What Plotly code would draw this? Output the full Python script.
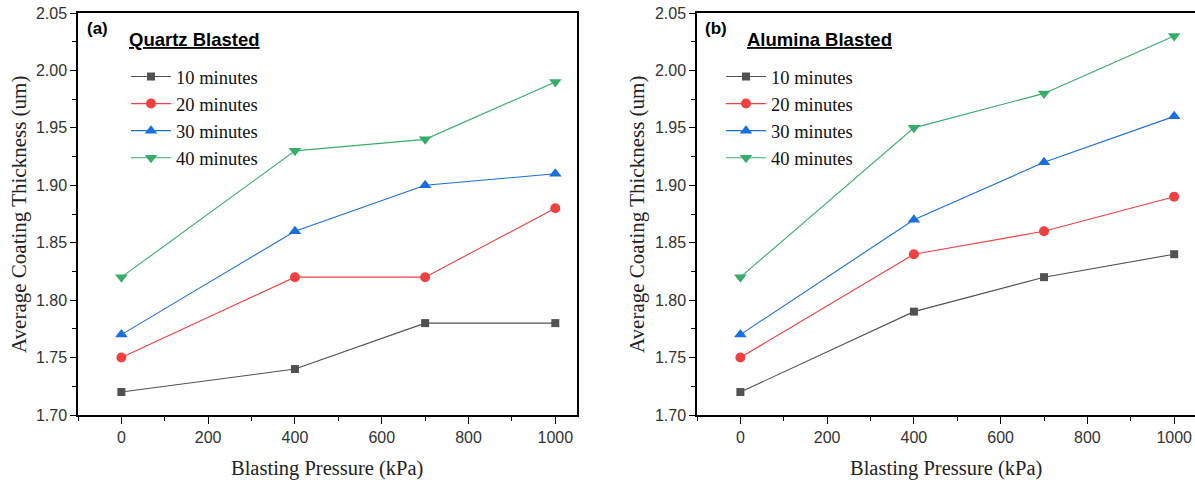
import plotly.graph_objects as go

pressure = [0, 400, 700, 1000]
series_names = ["10 minutes", "20 minutes", "30 minutes", "40 minutes"]

quartz_10 = [1.72, 1.74, 1.78, 1.78]
quartz_20 = [1.75, 1.82, 1.82, 1.88]
quartz_30 = [1.77, 1.86, 1.90, 1.91]
quartz_40 = [1.82, 1.93, 1.94, 1.99]

alumina_10 = [1.72, 1.79, 1.82, 1.84]
alumina_20 = [1.75, 1.84, 1.86, 1.89]
alumina_30 = [1.77, 1.87, 1.92, 1.96]
alumina_40 = [1.82, 1.95, 1.98, 2.03]

x_ticks = [0, 200, 400, 600, 800, 1000]
y_ticks = [1.70, 1.75, 1.80, 1.85, 1.90, 1.95, 2.00, 2.05]

colors = ["#515151", "#F14040", "#1A6FDF", "#37AD6B"]
symbols = ["square", "circle", "triangle-up", "triangle-down"]
msizes = [8, 10, 11, 11]

W, H = 1195, 482
ML, MR, MT, MB = 78, 0, 13, 67
PW, PH = W - ML - MR, H - MT - MB


def fx(px):
    return (px - ML) / PW


def fy(py):
    return (H - MB - py) / PH


fig = go.Figure()
panels = [
    ("x", "y", "legend", [quartz_10, quartz_20, quartz_30, quartz_40]),
    ("x2", "y2", "legend2", [alumina_10, alumina_20, alumina_30, alumina_40]),
]
for xa, ya, lg, data in panels:
    for i, vals in enumerate(data):
        fig.add_trace(go.Scatter(
            x=pressure, y=vals, name=series_names[i], mode="lines+markers",
            line=dict(color=colors[i], width=1.1),
            marker=dict(symbol=symbols[i], size=msizes[i], color=colors[i]),
            xaxis=xa, yaxis=ya, legend=lg))

tickfont = dict(family="Liberation Sans, Arial", size=16, color="#333")
minor_x = dict(tickvals=[-100, 100, 300, 500, 700, 900], ticks="outside",
               ticklen=4, tickwidth=1, tickcolor="black", showgrid=False)
common_x = dict(tickvals=x_ticks, ticks="outside", ticklen=7, tickwidth=1, tickcolor="black",
                showline=True, linecolor="black", linewidth=1.5, automargin=False,
                showgrid=False, zeroline=False, tickfont=tickfont, minor=minor_x)
common_y = dict(range=[1.70, 2.05], tickvals=y_ticks, tickformat=".2f",
                ticks="outside", ticklen=6, tickwidth=1, tickcolor="black",
                showline=True, linecolor="black", linewidth=1.5, automargin=False,
                showgrid=False, zeroline=False, tickfont=tickfont, domain=[0, 1],
                minor=dict(tickvals=[1.725, 1.775, 1.825, 1.875, 1.925, 1.975, 2.025],
                           ticks="outside", ticklen=4, tickwidth=1, tickcolor="black",
                           showgrid=False))

leg_font = dict(family="Liberation Serif, Times New Roman", size=18.5, color="#111")
fig.update_layout(
    width=W, height=H, margin=dict(l=ML, r=MR, t=MT, b=MB, pad=0),
    paper_bgcolor="white", plot_bgcolor="white", showlegend=True,
    xaxis=dict(common_x, domain=[0, fx(577)], range=[-100, 1050], mirror=True, anchor="y"),
    yaxis=dict(common_y, mirror=True, anchor="x"),
    xaxis2=dict(common_x, domain=[fx(697), 1.0], range=[-100, 1048], mirror=True, anchor="y2"),
    yaxis2=dict(common_y, anchor="x2"),
    legend=dict(x=fx(126), y=fy(58), xanchor="left", yanchor="top", font=leg_font,
                bgcolor="rgba(0,0,0,0)", itemwidth=40, borderwidth=0),
    legend2=dict(x=fx(721), y=fy(58), xanchor="left", yanchor="top", font=leg_font,
                 bgcolor="rgba(0,0,0,0)", itemwidth=40, borderwidth=0),
)

title_font_y = dict(family="Liberation Serif, Times New Roman", size=21, color="#222")
title_font_x = dict(family="Liberation Serif, Times New Roman", size=20.5, color="#222")
for lx, lbl, ttl, tx, ytx, xtx in [(85, "(a)", "Quartz Blasted", 127, 19, 327),
                                   (703, "(b)", "Alumina Blasted", 745, 637, 946)]:
    fig.add_annotation(x=fx(lx), y=fy(28), xref="paper", yref="paper", text="<b>" + lbl + "</b>",
                       showarrow=False, xanchor="left", yanchor="middle",
                       font=dict(family="Liberation Sans, Arial", size=17, color="black"))
    fig.add_annotation(x=fx(tx), y=fy(40), xref="paper", yref="paper",
                       text="<b><u>" + ttl + "</u></b>", showarrow=False, xanchor="left",
                       yanchor="middle", font=dict(family="Liberation Sans, Arial", size=18.5, color="black"))
    fig.add_annotation(x=fx(ytx), y=fy(215), xref="paper", yref="paper",
                       text="Average Coating Thickness (um)", textangle=-90, showarrow=False,
                       xanchor="center", yanchor="middle", font=title_font_y)
    fig.add_annotation(x=fx(xtx), y=fy(468), xref="paper", yref="paper",
                       text="Blasting Pressure (kPa)", showarrow=False,
                       xanchor="center", yanchor="middle", font=title_font_x)

fig.write_html("out.html", config={"displayModeBar": False},
               post_script="document.body.style.margin='0px';")
